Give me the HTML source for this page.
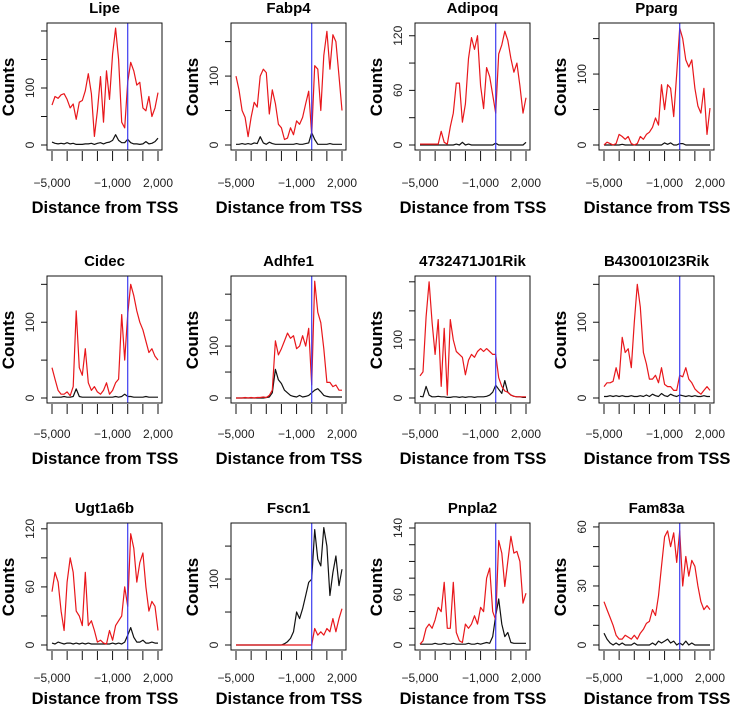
<!DOCTYPE html>
<html><head><meta charset="utf-8">
<style>
html,body{margin:0;padding:0;background:#fff;}
svg{display:block;font-family:"Liberation Sans",sans-serif;}
</style></head>
<body>
<svg id="chart" width="732" height="706" viewBox="0 0 732 706" xmlns="http://www.w3.org/2000/svg"></svg>
<script>
// shared x positions (distance from TSS)
const xValues = [-5000,-4800,-4600,-4400,-4200,-4000,-3800,-3600,-3400,-3200,-3000,-2800,-2600,-2400,-2200,-2000,-1800,-1600,-1400,-1200,-1000,-800,-600,-400,-200,0,200,400,600,800,1000,1200,1400,1600,1800,2000];
const xTicks = [-5000,-4000,-3000,-2000,-1000,0,1000,2000];
const xTickLabels = [["-5000","\u22125,000"],["-1000","\u22121,000"],["2000","2,000"]];
const geneNames = ["Lipe","Fabp4","Adipoq","Pparg","Cidec","Adhfe1","4732471J01Rik","B430010I23Rik","Ugt1a6b","Fscn1","Pnpla2","Fam83a"];

const redLipe   = [70,85,82,88,90,80,65,72,45,75,78,95,125,90,15,60,120,40,130,80,160,205,150,40,30,110,145,130,105,110,65,60,85,50,65,92];
const blackLipe = [5,3,2,3,2,4,2,3,1,1,1,2,2,3,1,3,4,2,4,5,8,18,8,4,4,10,4,2,2,1,2,6,2,3,6,12];
const redFabp4   = [100,80,50,40,12,40,62,55,100,110,105,45,80,60,30,25,8,10,25,15,35,30,40,60,78,15,115,110,50,130,165,110,160,150,100,50];
const blackFabp4 = [1,1,2,1,2,1,3,2,12,3,1,4,2,1,1,1,1,1,1,1,2,1,1,2,3,18,8,1,1,1,1,2,1,1,1,1];
const redAdipoq   = [1,1,1,1,1,1,1,15,3,1,20,35,68,68,25,45,95,118,105,120,65,40,85,75,55,35,100,110,125,115,95,80,90,65,35,52];
const blackAdipoq = [0,0,0,0,0,0,0,0,0,0,0,0,1,0,3,0,1,0,0,0,0,0,0,0,0,2,0,0,0,0,0,0,0,0,0,3];
const redPparg   = [0,4,2,0,2,15,12,8,12,2,0,2,12,8,15,18,25,38,28,85,50,85,80,40,100,165,150,120,110,120,80,55,45,80,15,52];
const blackPparg = [0,0,0,0,0,0,1,0,0,0,0,0,0,0,0,0,0,0,0,0,3,1,3,0,0,2,2,0,0,0,0,0,0,0,0,0];
const redCidec   = [40,25,10,5,5,8,3,15,115,40,30,65,20,10,15,8,5,10,20,5,10,20,25,110,50,110,150,135,115,100,90,75,60,65,55,50];
const blackCidec = [1,1,1,1,2,1,1,2,12,2,1,1,1,1,1,1,1,1,1,1,1,2,1,2,5,2,2,1,1,1,1,2,1,1,1,1];
const redAdhfe1   = [0,0,0,1,0,1,0,1,1,2,1,5,15,110,83,95,110,125,115,120,95,100,120,100,134,25,225,165,145,95,30,30,22,25,15,15];
const blackAdhfe1 = [0,0,0,0,0,0,0,0,0,0,1,2,10,55,35,28,15,10,5,3,2,5,2,3,5,10,15,18,12,5,3,2,2,2,2,2];
const red4732   = [38,45,140,200,130,75,135,20,120,5,135,100,80,75,70,40,65,75,70,80,85,80,85,80,75,75,35,20,12,10,5,3,2,2,2,2];
const black4732 = [3,2,20,5,2,2,3,2,2,1,1,2,2,1,2,1,2,2,1,2,2,2,3,5,10,22,15,8,30,10,5,3,2,2,1,1];
const redB430   = [15,20,20,22,40,25,80,60,65,40,100,150,120,60,45,25,25,30,20,40,18,15,15,10,10,30,28,40,25,20,12,8,5,10,15,10];
const blackB430 = [2,2,3,2,3,2,3,2,2,3,2,2,3,2,4,2,5,3,2,6,3,2,5,3,2,4,3,2,3,2,3,2,2,3,2,2];
const redUgt   = [55,75,65,35,15,65,90,75,35,30,20,75,20,25,15,3,5,2,1,15,5,20,25,30,60,40,115,100,65,85,95,60,35,45,40,15];
const blackUgt = [2,1,3,2,1,2,2,1,2,1,2,1,2,1,1,1,1,1,1,1,2,1,2,1,3,10,18,8,3,3,5,2,2,3,2,2];
const redFscn   = [0,0,0,0,0,0,0,0,0,0,0,0,0,0,0,0,0,0,0,0,0,0,0,0,0,0,25,15,20,15,25,20,40,20,40,55];
const blackFscn = [0,0,0,0,0,0,0,0,0,0,0,0,0,0,0,0,2,5,10,20,50,40,55,75,95,100,175,130,120,178,150,75,110,135,90,115];
const redPnpla2   = [1,5,20,25,20,30,45,40,75,20,20,75,15,5,3,25,20,25,35,25,45,40,80,92,40,30,125,110,70,100,130,110,112,100,50,62];
const blackPnpla2 = [1,1,1,1,1,2,1,1,2,1,1,2,1,1,1,1,2,1,1,2,1,2,3,2,10,35,55,25,10,15,3,2,2,2,2,2];
const redFam83a   = [22,18,14,10,5,3,3,5,4,3,5,3,6,8,11,12,18,15,25,40,55,58,50,57,42,58,30,45,35,43,40,30,22,18,20,18];
const blackFam83a = [6,3,1,0,1,0,1,0,0,0,1,0,0,0,0,0,1,0,2,1,2,3,1,2,0,1,0,2,0,1,0,0,0,0,0,0];

const redSeries = [redLipe,redFabp4,redAdipoq,redPparg,redCidec,redAdhfe1,red4732,redB430,redUgt,redFscn,redPnpla2,redFam83a];
const blackSeries = [blackLipe,blackFabp4,blackAdipoq,blackPparg,blackCidec,blackAdhfe1,black4732,blackB430,blackUgt,blackFscn,blackPnpla2,blackFam83a];
const yTickSets = [[0,50,100,150,200],[0,50,100,150],[0,30,60,90,120],[0,50,100,150],[0,50,100,150],[0,50,100,150,200],[0,50,100,150,200],[0,50,100,150],[0,30,60,90,120],[0,50,100,150],[0,20,40,60,80,100,120,140],[0,10,20,30,40,50,60]];
const yLabelSets = [[0,100],[0,100],[0,60,120],[0,100],[0,100],[0,100],[0,100],[0,100],[0,60,120],[0,100],[0,60,140],[0,30,60]];
const yTopValues = [214,177,134,172,161,235,210,161,126,185,146,62];

const NS = "http://www.w3.org/2000/svg";
const svg = document.getElementById("chart");
function mk(tag, attrs, parent){
  const e = document.createElementNS(NS, tag);
  for (const k in attrs) e.setAttribute(k, attrs[k]);
  (parent||svg).appendChild(e);
  return e;
}
const colLefts = [47,231,415,599];
const rowTops = [23,276,523];
const rowLabelOff = [37,35,32];
const rowTitleOff = [63,61,54];
const rowTickLen = [11,11,10];
const boxW = 115, boxH = 127;

for (let i = 0; i < 12; i++) {
  const r = Math.floor(i / 4);
  const left = colLefts[i % 4], top = rowTops[r];
  const bottom = top + boxH, zeroY = top + 122;
  const g = mk("g", {});
  
  
  const xs = v => left + 5 + (v + 5000) / 7000 * 106;
  const ys = v => zeroY - v / yTopValues[i] * 122;

  const t = mk("text", {x: left + boxW/2, y: top - 10, "text-anchor": "middle", "font-size": 15, "font-weight": "bold"}, g);
  t.textContent = geneNames[i];
  
  

  const lineFor = (arr, color, name) => {
    const p = mk("polyline", {points: arr.map((v, k) => xs(xValues[k]).toFixed(1) + "," + ys(v).toFixed(1)).join(" "), fill: "none", stroke: color, "stroke-width": 1.2, "stroke-linejoin": "round"}, g);
    
    
  };
  lineFor(blackSeries[i], "#111", "control-line");
  lineFor(redSeries[i], "#e8171b", "signal-line");
  const tss = mk("line", {x1: xs(0), x2: xs(0), y1: top, y2: bottom, stroke: "#3b3bf0", "stroke-width": 1.2}, g);
  
  

  const box = mk("rect", {x: left, y: top, width: boxW, height: boxH, fill: "none", stroke: "#111", "stroke-width": 1}, g);
  
  

  xTicks.forEach(v => {
    const tk = mk("line", {x1: xs(v), x2: xs(v), y1: bottom + 1, y2: bottom + rowTickLen[r], stroke: "#111", "stroke-width": 1}, g);
    
    
  });
  xTickLabels.forEach(([v, s]) => {
    const tl = mk("text", {x: xs(+v), y: bottom + rowLabelOff[r], "text-anchor": "middle", "font-size": 12, fill: "#222"}, g);
    tl.textContent = s;
    
    
  });
  const xl = mk("text", {x: left + 58, y: bottom + rowTitleOff[r], "text-anchor": "middle", "font-size": 16.5, "font-weight": "bold"}, g);
  xl.textContent = "Distance from TSS";
  
  

  yTickSets[i].forEach(v => {
    const tk = mk("line", {x1: left - 6, x2: left, y1: ys(v), y2: ys(v), stroke: "#111", "stroke-width": 1}, g);
    
    
  });
  yLabelSets[i].forEach(v => {
    const cx = left - 13, cy = ys(v);
    const tl = mk("text", {x: cx, y: cy, "text-anchor": "middle", "font-size": 12, fill: "#222", transform: "rotate(-90 " + cx + " " + cy + ")"}, g);
    tl.textContent = String(v);
    
    
  });
  const cx = left - 33, cy = top + 64;
  const yl = mk("text", {x: cx, y: cy, "text-anchor": "middle", "font-size": 17, "font-weight": "bold", transform: "rotate(-90 " + cx + " " + cy + ")"}, g);
  yl.textContent = "Counts";
  
  
}
</script>
</body></html>
